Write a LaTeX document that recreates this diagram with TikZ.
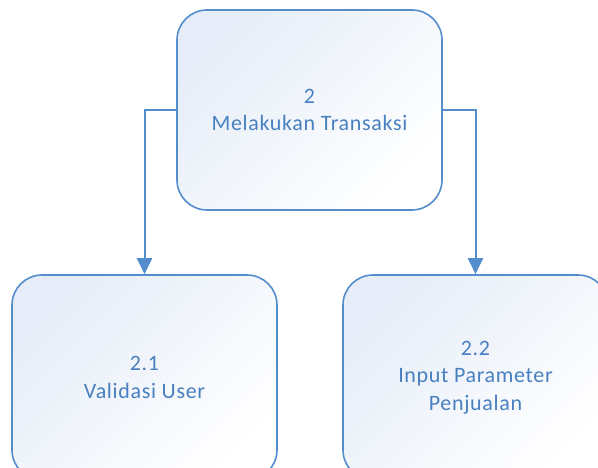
\documentclass[tikz,border=0pt]{standalone}
\usepackage{fontspec}
\setmainfont{Carlito}[LetterSpace=3]
\usetikzlibrary{arrows.meta}
\definecolor{procline}{RGB}{84,141,204}
\definecolor{proctext}{RGB}{72,128,192}
\definecolor{procfill}{RGB}{230,237,248}
\tikzset{
  procbox/.style={draw=procline, line width=1.6pt, rounded corners=30pt,
    top color=procfill, bottom color=white, shading angle=45,
    minimum width=265pt, minimum height=200pt, align=center,
    text=proctext, font=\fontsize{22}{27.5}\selectfont},
  flow/.style={draw=procline, line width=2pt,
    -{Triangle[width=15pt,length=16pt]}}
}
\begin{document}
\begin{tikzpicture}[x=1pt,y=1pt]
\useasboundingbox (0,0) rectangle (598,468);
\clip (0,0) rectangle (598,468);
% parent process
\node[procbox] (p2) at (309.5,358) {2\\Melakukan Transaksi};
% child processes
\node[procbox, minimum height=205pt] (p21) at (144.5,90.5) {2.1\\Validasi User};
\node[procbox, minimum height=205pt] (p22) at (475.5,90.5) {2.2\\Input Parameter\\Penjualan};
% decomposition arrows
\draw[flow] (p2.west) -| (p21.north);
\draw[flow] (p2.east) -| (p22.north);
\end{tikzpicture}
\end{document}
